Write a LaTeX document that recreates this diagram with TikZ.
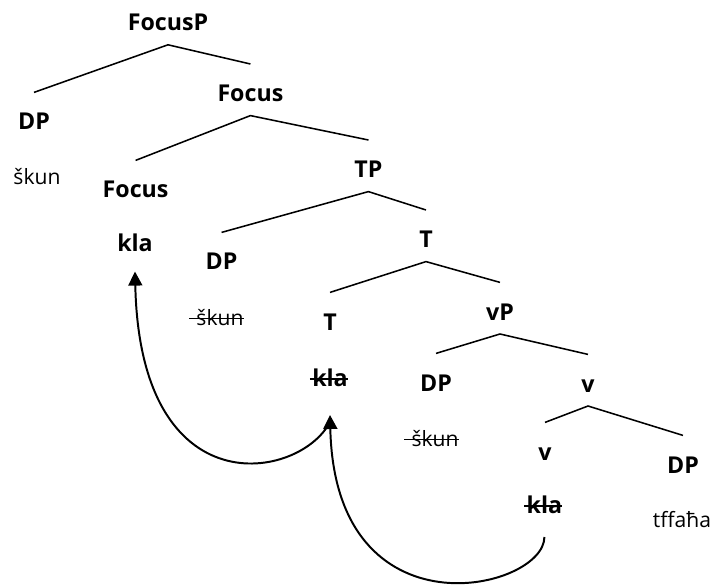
\documentclass[tikz,border=0pt]{standalone}
\usepackage{fontspec}
\setmainfont{Open Sans}
\usetikzlibrary{arrows.meta}
\newcommand{\crossed}[2][0.1em]{\setbox0\hbox{#2}\rlap{\copy0}\kern-#1\rule[0.27em]{\dimexpr\wd0+#1}{1pt}}

\begin{document}
\begin{tikzpicture}[
        cat/.style={anchor=base, inner sep=0pt, font=\fontsize{16.5}{19}\selectfont\bfseries},
        word/.style={anchor=base, inner sep=0pt, font=\fontsize{15}{18}\selectfont},
        branch/.style={line width=1.1pt},
        move/.style={line width=1.4pt, -{Triangle[length=3.5mm, width=3.5mm]}}
    ]
        \useasboundingbox (0, 0) rectangle (17.875, 14.6);
        % categories
        \node[cat] (FocusP) at (4.2, 13.83) {FocusP};
        \node[cat] (DP1) at (0.85, 11.35) {DP};
        \node[cat] (Focus1) at (6.26, 12.06) {Focus};
        \node[cat] (Focus2) at (3.39, 9.65) {Focus};
        \node[cat] (TP) at (9.21, 10.16) {TP};
        \node[cat] (DP2) at (5.54, 7.85) {DP};
        \node[cat] (T1) at (10.65, 8.41) {T};
        \node[cat] (T2) at (8.25, 6.35) {T};
        \node[cat] (vP) at (12.5, 6.6) {vP};
        \node[cat] (DP3) at (10.9, 4.825) {DP};
        \node[cat] (v1) at (14.7, 4.8) {v};
        \node[cat] (v2) at (13.625, 3.1) {v};
        \node[cat] (DP4) at (17.075, 2.775) {DP};
        % words
        \node[word] (skun1) at (0.925, 9.975) {škun};
        \node[cat] (kla1) at (3.375, 8.31) {kla};
        \node[word] (skun2) at (5.5, 6.475) {\crossed[0.35em]{škun}};
        \node[cat] (kla2) at (8.25, 4.95) {\crossed{kla}};
        \node[word] (skun3) at (10.875, 3.45) {\crossed[0.35em]{škun}};
        \node[cat] (kla3) at (13.61, 1.775) {\crossed{kla}};
        \node[word] (tffaha) at (17.05, 1.41) {tffaħa};
        % branches
        \foreach \p/\l/\r in {FocusP/DP1/Focus1, Focus1/Focus2/TP, TP/DP2/T1, T1/T2/vP, vP/DP3/v1, v1/v2/DP4}
            \draw[branch] ([yshift=9.4mm]\l.base) -- ([yshift=-3.5mm]\p.base) -- ([yshift=9.4mm]\r.base);
        % head movement
        \draw[move] ([yshift=-6mm]kla3.base) .. controls +(0, -1.325) and +(0.125, -5.625) .. ([yshift=-7.25mm]kla2.base);
        \draw[move] ([yshift=-9mm]kla2.base) .. controls +(-0.75, -1.45) and +(0.125, -5.95) .. ([yshift=-5mm]kla1.base);
    \end{tikzpicture}
\end{document}
